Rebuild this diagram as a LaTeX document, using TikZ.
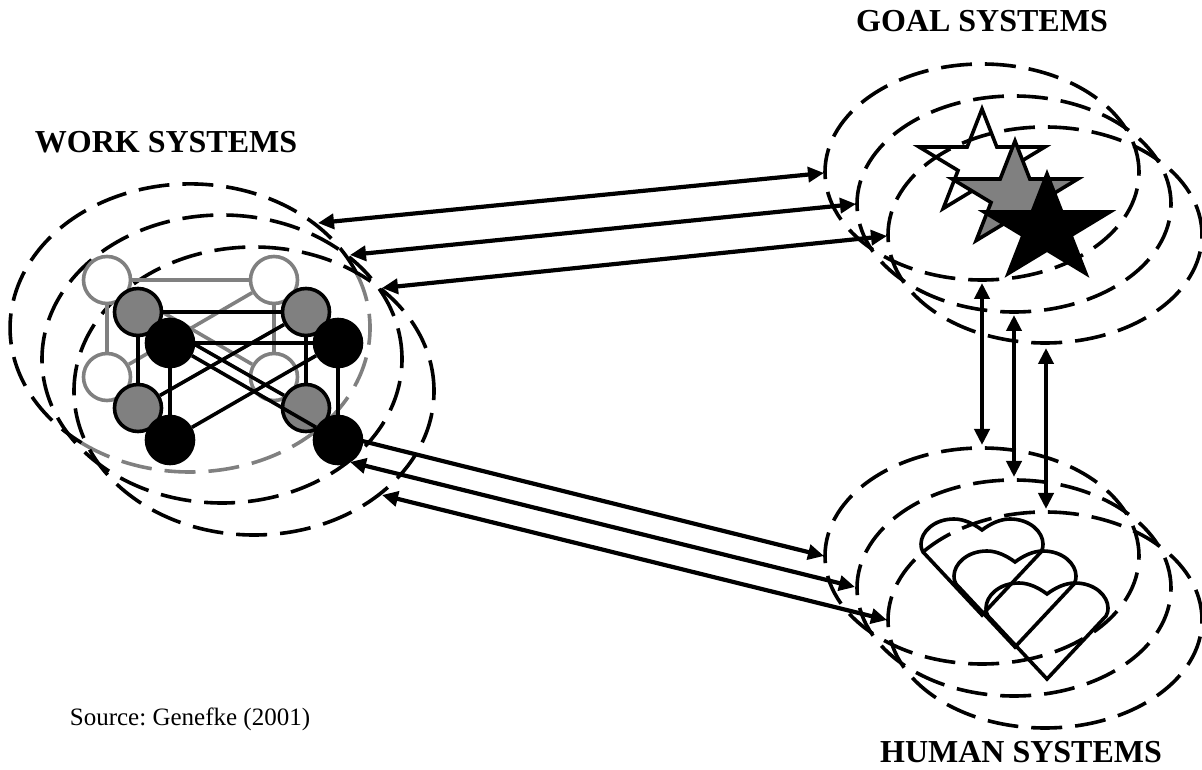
\documentclass[tikz,border=0pt]{standalone}
\usepackage{fontspec}
\setmainfont{Liberation Serif}
\usetikzlibrary{arrows.meta}
\usetikzlibrary{positioning}

\begin{document}
\frenchspacing
\begin{tikzpicture}[
      x=1pt,y=1pt,
      >={Triangle[length=16pt,width=15pt]},
      ring/.style={draw=black,dash pattern=on 31pt off 13pt,line width=3.6pt},
      ringgray/.style={draw=gray,dash pattern=on 31pt off 13pt,line width=3.6pt},
      link/.style={<->,draw=black,line width=4.2pt},
      title/.style={font=\fontsize{32}{36}\selectfont\bfseries,inner sep=0pt},
      source/.style={font=\fontsize{25}{28}\selectfont,inner sep=0pt},
      wnode/.style={circle,draw=gray,fill=white,line width=3.6pt,minimum size=47pt,inner sep=0pt},
      gnode/.style={circle,draw=black,fill=gray,line width=3.6pt,minimum size=47pt,inner sep=0pt},
      bnode/.style={circle,draw=black,fill=black,line width=3.6pt,minimum size=47pt,inner sep=0pt},
      wline/.style={draw=gray,line width=3.6pt},
      bline/.style={draw=black,line width=3.6pt},
      starshape/.style={line width=3.6pt,miter limit=10},
      heartline/.style={draw=black,line width=3.6pt,line join=miter},
  ]
  \useasboundingbox (0,0) rectangle (1202,769);

  % Labels
  \node[title,anchor=center] (goal) at (982,748) {GOAL SYSTEMS};
  \node[title,anchor=center] (work) at (166,627) {WORK SYSTEMS};
  \node[title,anchor=center] (human) at (1021,17) {HUMAN SYSTEMS};
  \node[source,anchor=center] (src) at (190,50) {Source: Genefke (2001)};

  % Goal and human rings
  \foreach \cx/\cy in {982/597,1014/565,1045/534,982/213,1014/181,1045/149} {
      \draw[ring] (\cx,\cy) ellipse (157 and 108);
  }

  % Work rings
  \draw[ring] (357,495) arc[start angle=22,end angle=233,x radius=180,y radius=144];
  \draw[ringgray] (81.7,326) arc[start angle=233,end angle=382,x radius=180,y radius=144];
  \draw[ring] (222,410) ellipse (180 and 144);
  \draw[ring] (254,378) ellipse (180 and 144);

  % Ends of the arrows
  \coordinate (wg1) at (318,546);
  \coordinate (wg2) at (350,514);
  \coordinate (wg3) at (382,481);
  \coordinate (gw1) at (824,596);
  \coordinate (gw2) at (856,565);
  \coordinate (gw3) at (887,533);
  \coordinate (wh1) at (318,339);
  \coordinate (wh2) at (350,307);
  \coordinate (wh3) at (382,274);
  \coordinate (hw1) at (824,213);
  \coordinate (hw2) at (855,182);
  \coordinate (hw3) at (887,149);
  \coordinate (gh1) at (982,486);
  \coordinate (gh2) at (1014,454);
  \coordinate (gh3) at (1046,421);
  \coordinate (hg1) at (982,324);
  \coordinate (hg2) at (1014,292);
  \coordinate (hg3) at (1046,260);

  \draw[link] (wg1) -- (gw1);
  \draw[link] (wg2) -- (gw2);
  \draw[link] (wg3) -- (gw3);
  \draw[link] (wh1) -- (hw1);
  \draw[link] (wh2) -- (hw2);
  \draw[link] (wh3) -- (hw3);
  \draw[link] (gh1) -- (hg1);
  \draw[link] (gh2) -- (hg2);
  \draw[link] (gh3) -- (hg3);

  % Back layer
  \node[wnode] (w1) at (107,489) {};
  \node[wnode] (w2) at (274,489) {};
  \node[wnode] (w3) at (107,392) {};
  \node[wnode] (w4) at (274,392) {};
  \draw[wline] (w1) -- (w2);
  \draw[wline] (w1) -- (w3);
  \draw[wline] (w2) -- (w4);
  \draw[wline] (w1) -- (w4);
  \draw[wline] (w2) -- (w3);

  % Middle layer
  \node[gnode] (g1) at (138,457) {};
  \node[gnode] (g2) at (306,457) {};
  \node[gnode] (g3) at (138,361) {};
  \node[gnode] (g4) at (306,361) {};
  \draw[bline] (g1) -- (g2);
  \draw[bline] (g1) -- (g3);
  \draw[bline] (g2) -- (g4);
  \draw[bline] (g1) -- (g4);
  \draw[bline] (g2) -- (g3);

  % Front layer
  \node[bnode] (b1) at (170,426) {};
  \node[bnode] (b2) at (338,426) {};
  \node[bnode] (b3) at (170,329) {};
  \node[bnode] (b4) at (338,329) {};
  \draw[bline] (b1) -- (b2);
  \draw[bline] (b1) -- (b3);
  \draw[bline] (b2) -- (b4);
  \draw[bline] (b1) -- (b4);
  \draw[bline] (b2) -- (b3);

  % Stars
  \foreach \cx/\cy/\fillcol/\linecol in {982/605/none/black,1015/573/gray/black,1047/540/black/black} {
      \draw[starshape,draw=\linecol,fill=\fillcol,xshift=\cx pt,yshift=\cy pt,x=66pt,y=55pt]
        (0,1) -- (.2245,.309) -- (.951,.309) -- (.363,-.118) -- (.588,-.809)
        -- (0,-.382) -- (-.588,-.809) -- (-.363,-.118) -- (-.951,.309)
        -- (-.2245,.309) -- cycle;
  }

  % Hearts
  \foreach \cx/\cy in {982/239,1015/207,1047/175} {
      \draw[heartline,xshift=\cx pt,yshift=\cy pt]
        (0,0) .. controls (-8,6) and (-18,11) .. (-28,11)
        .. controls (-48,11) and (-61,-2) .. (-61,-14)
        .. controls (-61,-18) and (-60,-20) .. (-59,-22)
        -- (0,-85) -- (59,-22)
        .. controls (60,-20) and (61,-18) .. (61,-14)
        .. controls (61,-2) and (48,11) .. (28,11)
        .. controls (18,11) and (8,6) .. (0,0) -- cycle;
  }
\end{tikzpicture}
\end{document}
